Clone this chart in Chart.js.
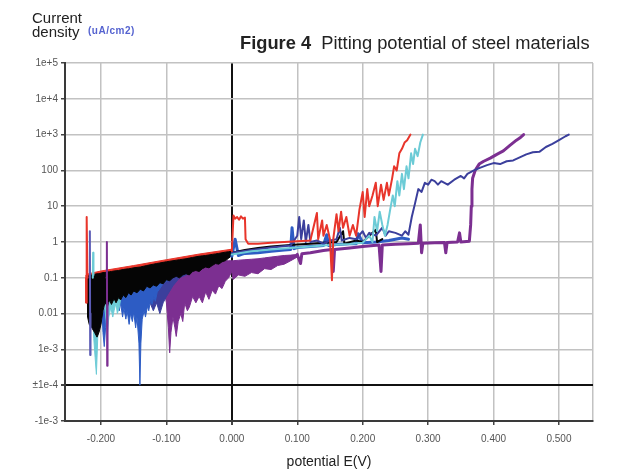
<!DOCTYPE html>
<html>
<head>
<meta charset="utf-8">
<script src="https://cdn.jsdelivr.net/npm/chart.js@4.4.1/dist/chart.umd.min.js"></script>
<style>
  html, body { margin: 0; padding: 0; background: #fff; }
  #wrap { position: relative; width: 617px; height: 469px; overflow: hidden; font-family: 'Liberation Sans', Arial, sans-serif; }
  #c { position: absolute; left: 0; top: 0; }
  .lbl { position: absolute; white-space: nowrap; color: #222; }
</style>
</head>
<body>
<div id="wrap">
  <canvas id="c" width="617" height="469"></canvas>
  <div class="lbl" style="left:32px; top:11px; font-size:15px; line-height:14px;">Current<br>density</div>
  <div class="lbl" style="left:88px; top:25px; font-size:10px; font-weight:bold; letter-spacing:0.5px; color:#5563d0;">(uA/cm2)</div>
  <div class="lbl" style="left:240px; top:32px; font-size:18.3px;"><b>Figure 4</b>&nbsp; Pitting potential of steel materials</div>
</div>
<script>
// ---- axis tick labels ----
const xTickValues = [-0.2, -0.1, 0, 0.1, 0.2, 0.3, 0.4, 0.5];
const xTickLabels = ['-0.200', '-0.100', '0.000', '0.100', '0.200', '0.300', '0.400', '0.500'];
const yTickLabels = ['-1e-3', '\u00b11e-4', '1e-3', '0.01', '0.1', '1', '10', '100', '1e+3', '1e+4', '1e+5'];

// ---- dense bands (potential V, current density uA/cm2) ----
const blackBandX     = [-0.221,-0.2205,-0.218,-0.214,-0.21,-0.206,-0.203,-0.2,-0.197,-0.194,-0.19,-0.187,-0.184,-0.18,-0.177,-0.173,-0.17,-0.166,-0.162,-0.158,-0.154,-0.15,-0.145,-0.14,-0.135,-0.13,-0.125,-0.12,-0.115,-0.11,-0.105,-0.1,-0.095,-0.09,-0.085,-0.08,-0.075,-0.07,-0.065,-0.06,-0.055,-0.05,-0.045,-0.04,-0.035,-0.03,-0.025,-0.02,-0.015,-0.01,-0.005,0];
const blackBandUpper = [0.11,0.11,0.115,0.12,0.125,0.13,0.13,0.135,0.14,0.14,0.145,0.148,0.15,0.155,0.157,0.16,0.165,0.17,0.175,0.178,0.183,0.19,0.195,0.2,0.21,0.22,0.23,0.24,0.25,0.26,0.27,0.28,0.29,0.3,0.31,0.32,0.33,0.34,0.355,0.37,0.385,0.4,0.41,0.42,0.435,0.45,0.465,0.48,0.5,0.52,0.535,0.55];
const blackBandLower = [0.1,0.008,0.005,0.004,0.003,0.0022,0.003,0.005,0.012,0.02,0.016,0.024,0.018,0.026,0.02,0.028,0.024,0.033,0.028,0.038,0.033,0.043,0.038,0.048,0.043,0.058,0.052,0.063,0.058,0.073,0.068,0.088,0.083,0.1,0.11,0.1,0.12,0.13,0.12,0.15,0.16,0.15,0.18,0.2,0.19,0.22,0.25,0.24,0.28,0.3,0.35,0.42];

const redBandX     = [-0.2235,-0.223,-0.221,-0.219,-0.2,-0.15,-0.1,-0.05,0];
const redBandUpper = [0.1,0.12,0.125,0.13,0.155,0.22,0.32,0.46,0.63];
const redBandLower = [0.1,0.02,0.03,0.09,0.12,0.17,0.25,0.36,0.5];

const cyanBandX     = [-0.215,-0.213,-0.211,-0.209,-0.207,-0.205,-0.204,-0.202,-0.198,-0.195,-0.192,-0.19,-0.188,-0.185,-0.182,-0.18,-0.177,-0.175,-0.172,-0.17,-0.165,-0.16];
const cyanBandUpper = [0.1,0.1,0.1,0.1,0.1,0.1,0.1,0.1,0.1,0.1,0.1,0.1,0.1,0.1,0.1,0.1,0.1,0.1,0.1,0.1,0.1,0.1];
const cyanBandLower = [0.1,0.03,0.002,0.0006,0.0002,0.002,0.01,0.02,0.01,0.02,0.006,0.003,0.008,0.015,0.008,0.012,0.02,0.01,0.015,0.025,0.04,0.045];

const blueBandX     = [-0.2,-0.197,-0.195,-0.193,-0.19,-0.185,-0.18,-0.175,-0.172,-0.17,-0.167,-0.165,-0.162,-0.16,-0.157,-0.155,-0.152,-0.15,-0.147,-0.145,-0.142,-0.1405,-0.139,-0.137,-0.134,-0.132,-0.129,-0.127,-0.124,-0.122,-0.119,-0.117,-0.114,-0.11,-0.105,-0.1,-0.09];
const blueBandUpper = [0.1,0.1,0.1,0.1,0.1,0.1,0.1,0.1,0.1,0.1,0.1,0.1,0.1,0.1,0.1,0.1,0.1,0.1,0.1,0.1,0.1,0.1,0.1,0.1,0.1,0.1,0.15,0.15,0.15,0.15,0.15,0.15,0.15,0.15,0.15,0.15,0.15];
const blueBandLower = [0.05,0.003,0.0012,0.004,0.03,0.03,0.035,0.03,0.012,0.02,0.008,0.014,0.007,0.012,0.005,0.01,0.006,0.011,0.004,0.008,0.0015,0.0001,0.0015,0.007,0.012,0.008,0.016,0.012,0.025,0.018,0.03,0.022,0.04,0.05,0.07,0.08,0.1];

const navyBandX     = [-0.14,-0.13,-0.125,-0.12,-0.115,-0.11,-0.105,-0.1,-0.09,-0.08,-0.07,-0.06];
const navyBandUpper = [0.15,0.15,0.15,0.15,0.15,0.2,0.2,0.2,0.2,0.25,0.25,0.25];
const navyBandLower = [0.05,0.03,0.02,0.012,0.02,0.01,0.02,0.03,0.06,0.1,0.12,0.15];

const purpleBandX     = [-0.105,-0.1,-0.097,-0.095,-0.093,-0.09,-0.087,-0.085,-0.082,-0.078,-0.075,-0.072,-0.068,-0.065,-0.06,-0.055,-0.05,-0.045,-0.04,-0.035,-0.03,-0.025,-0.02,-0.015,-0.01,-0.005,0,0.002,0.01,0.02,0.03,0.04,0.05,0.06,0.07,0.08,0.09,0.1];
const purpleBandUpper = [0.2,0.2,0.2,0.2,0.2,0.2,0.2,0.2,0.2,0.25,0.25,0.25,0.25,0.25,0.25,0.25,0.3,0.3,0.3,0.3,0.3,0.3,0.3,0.3,0.3,0.3,0.3,0.3,0.31,0.32,0.33,0.34,0.36,0.38,0.4,0.42,0.43,0.45];
const purpleBandLower = [0.06,0.02,0.004,0.0008,0.003,0.008,0.004,0.0023,0.006,0.01,0.006,0.02,0.012,0.015,0.03,0.02,0.03,0.02,0.04,0.025,0.045,0.035,0.06,0.05,0.08,0.1,0.15,0.09,0.12,0.11,0.14,0.13,0.18,0.17,0.22,0.24,0.3,0.38];

// ---- spikes at the start of the scans ----
const redSpikeX    = [-0.2225,-0.2222,-0.2215,-0.2208];
const redSpikeY    = [0.02,5,4.5,0.1];
const slateSpikeX  = [-0.2175,-0.217,-0.2165,-0.216];
const slateSpikeY  = [0.1,2,0.0007,0.01];
const purpleSpikeX = [-0.1915,-0.191,-0.1905,-0.19];
const purpleSpikeY = [0.1,1.0,0.00035,0.02];
const cyanSpikeX   = [-0.2125,-0.212,-0.2115];
const cyanSpikeY   = [0.1,0.5,0.12];

// ---- anodic branches ----
const redLineX = [0,0.0025,0.005,0.008,0.011,0.014,0.017,0.02,0.021,0.025,0.04,0.06,0.08,0.1,0.12,0.13,0.132,0.138,0.14,0.145,0.15,0.153,0.155,0.16,0.163,0.167,0.17,0.175,0.18,0.185,0.19,0.195,0.2,0.203,0.207,0.21,0.215,0.22,0.223,0.228,0.232,0.237,0.24,0.245,0.248,0.252,0.256,0.26,0.264,0.268,0.273];
const redLineY = [0.55,5.5,4.5,5,4.2,5.2,4.5,4.8,1.2,0.9,0.9,0.95,1.0,1.05,1.1,6.5,1.2,4,1.5,3,1.2,0.085,1.2,6,2,7,2.5,5,1.5,3,1.5,8,25,5,30,10,20,45,10,40,15,45,20,60,130,100,300,400,600,700,1000];

const cyanLineX = [0,0.03,0.06,0.09,0.12,0.15,0.18,0.2,0.21,0.215,0.218,0.222,0.226,0.23,0.234,0.238,0.242,0.246,0.249,0.253,0.256,0.26,0.263,0.267,0.27,0.274,0.277,0.28,0.284,0.288,0.292];
const cyanLineY = [0.45,0.55,0.62,0.68,0.75,0.82,0.88,0.95,1.5,1.0,5,2,7,3,1.5,3,8,20,10,50,20,80,30,130,60,300,150,400,250,600,1000];

const navyLineX = [0,0.03,0.06,0.09,0.1,0.103,0.106,0.11,0.113,0.117,0.12,0.13,0.14,0.15,0.16,0.165,0.168,0.18,0.19,0.2,0.205,0.21,0.22,0.23,0.235,0.24,0.25,0.26,0.265,0.27,0.275,0.28,0.285,0.29,0.295,0.3,0.305,0.31,0.315,0.32,0.33,0.34,0.35,0.355,0.36,0.37,0.38,0.39,0.4,0.41,0.42,0.43,0.44,0.45,0.46,0.47,0.48,0.49,0.5,0.51,0.515];
const navyLineY = [0.5,0.6,0.7,0.8,1.5,5,1.2,4,1.0,3,1.0,1.1,0.9,1.1,1.2,2.5,1.1,1.3,1.2,2.0,1.3,1.8,1.5,2.5,1.5,2,1.8,1.5,2,1.6,5,12,30,25,45,40,55,50,40,50,40,55,70,60,80,100,120,140,160,150,180,190,230,280,320,330,450,550,700,900,1000];

const blackLineX = [0,0.02,0.04,0.06,0.08,0.1,0.12,0.14,0.16,0.17,0.172,0.19,0.2,0.22,0.222,0.23];
const blackLineY = [0.5,0.6,0.68,0.75,0.8,0.85,0.9,0.95,1.0,2.0,0.9,1.1,1.0,2.2,1.0,1.2];

const blueLineX = [0,0.005,0.01,0.015,0.02,0.04,0.06,0.08,0.09,0.092,0.095,0.1,0.12,0.14,0.145,0.148,0.16,0.18,0.19,0.193,0.2,0.22,0.24,0.26,0.27];
const blueLineY = [0.4,1.2,0.42,0.45,0.48,0.5,0.55,0.6,0.62,2.5,0.65,0.7,0.75,0.8,1.6,0.8,0.85,0.9,0.9,1.7,0.95,1.0,1.1,1.3,1.2];

const purpleLineX = [0.1,0.105,0.107,0.12,0.14,0.153,0.155,0.157,0.18,0.2,0.225,0.228,0.23,0.25,0.27,0.285,0.288,0.29,0.292,0.31,0.325,0.327,0.329,0.345,0.348,0.35,0.363,0.365,0.366,0.367,0.368,0.372,0.378,0.385,0.395,0.405,0.415,0.425,0.435,0.44,0.446];
const purpleLineY = [0.45,0.25,0.47,0.5,0.58,0.62,0.15,0.62,0.68,0.75,0.82,0.15,0.83,0.87,0.9,0.92,3.0,0.5,0.93,0.95,0.97,0.5,0.97,1.0,1.8,1.0,1.05,3,10,30,60,100,150,180,220,280,350,500,700,800,1000];

// ---- colours ----
const C = {
  red: '#e8352b', cyan: '#6ccbd6', black: '#050505', blue: '#2d5cc4',
  navy: '#3b3f9c', purple: '#7c2f91', slate: '#5b5bb5'
};

// current density -> position on the decade axis (index 1 = 1e-4 ... 10 = 1e+5)
function toAxis(v) { return Math.log10(v) + 5; }
function pts(xs, ys) { return xs.map((x, i) => ({ x: x, y: toAxis(ys[i]) })); }

function line(xs, ys, color, w) {
  return { data: pts(xs, ys), borderColor: color, backgroundColor: color, borderWidth: w,
           pointRadius: 0, fill: false, tension: 0, borderJoinStyle: 'round', borderCapStyle: 'round' };
}
function band(xs, up, lo, color) {
  return [
    { data: pts(xs, up), borderColor: color, backgroundColor: color, borderWidth: 1, pointRadius: 0, fill: false, tension: 0 },
    { data: pts(xs, lo), borderColor: color, backgroundColor: color, borderWidth: 1, pointRadius: 0, fill: '-1', tension: 0, borderJoinStyle: 'round' }
  ];
}

const datasets = [
  line(redSpikeX, redSpikeY, C.red, 2),
  line(slateSpikeX, slateSpikeY, C.slate, 2),
  line(purpleSpikeX, purpleSpikeY, C.purple, 2),
  line(cyanSpikeX, cyanSpikeY, C.cyan, 2),
  line(redLineX, redLineY, C.red, 2),
  line(cyanLineX, cyanLineY, C.cyan, 2),
  line(navyLineX, navyLineY, C.navy, 2),
  line(blackLineX, blackLineY, C.black, 2),
  line(blueLineX, blueLineY, C.blue, 3),
  line(purpleLineX, purpleLineY, C.purple, 3),
  ...band(blackBandX, blackBandUpper, blackBandLower, C.black),
  ...band(redBandX, redBandUpper, redBandLower, C.red),
  ...band(cyanBandX, cyanBandUpper, cyanBandLower, C.cyan),
  ...band(blueBandX, blueBandUpper, blueBandLower, C.blue),
  ...band(navyBandX, navyBandUpper, navyBandLower, C.navy),
  ...band(purpleBandX, purpleBandUpper, purpleBandLower, C.purple)
];

const X_MIN = -0.255, X_MAX = 0.552;
const FONT = "'Liberation Sans', Arial, sans-serif";
const isBound = v => Math.abs(v - X_MIN) < 1e-9 || Math.abs(v - X_MAX) < 1e-9;

new Chart(document.getElementById('c'), {
  type: 'line',
  data: { datasets: datasets },
  options: {
    responsive: false, animation: false, devicePixelRatio: 1,
    layout: { padding: { left: 0, top: 63, right: 24, bottom: 0 } },
    plugins: { legend: { display: false }, tooltip: { enabled: false } },
    scales: {
      x: {
        type: 'linear', min: X_MIN, max: X_MAX,
        afterBuildTicks: s => { s.ticks = [X_MIN, ...xTickValues, X_MAX].map(v => ({ value: v })); },
        afterFit: s => { s.height = 48; },
        ticks: {
          autoSkip: false, maxRotation: 0, padding: 8, color: '#555', font: { family: FONT, size: 10 },
          callback: v => { const i = xTickValues.findIndex(t => Math.abs(t - v) < 1e-9); return i >= 0 ? xTickLabels[i] : ''; }
        },
        grid: {
          color: c => (c.tick && Math.abs(c.tick.value) < 1e-9) ? '#111' : '#c2c2c2',
          lineWidth: c => (c.tick && Math.abs(c.tick.value) < 1e-9) ? 2 : 1.5,
          tickLength: 4,
          tickColor: c => (c.tick && isBound(c.tick.value)) ? 'rgba(0,0,0,0)' : '#444'
        },
        border: { color: '#3a3a3a', width: 2 },
        title: { display: true, text: 'potential E(V)', color: '#222', font: { family: FONT, size: 14, lineHeight: 1 }, padding: { top: 0, bottom: 0 } }
      },
      y: {
        type: 'linear', min: 0, max: 10,
        afterFit: s => { s.width = 65; },
        ticks: {
          stepSize: 1, padding: 3, color: '#555', font: { family: FONT, size: 10 },
          callback: v => yTickLabels[Math.round(v)]
        },
        grid: {
          color: c => (c.tick && c.tick.value === 1) ? '#111' : '#c2c2c2',
          lineWidth: c => (c.tick && c.tick.value === 1) ? 2 : 1.5,
          tickLength: 4, tickColor: '#444'
        },
        border: { color: '#3a3a3a', width: 2 }
      }
    }
  }
});
</script>
</body>
</html>
